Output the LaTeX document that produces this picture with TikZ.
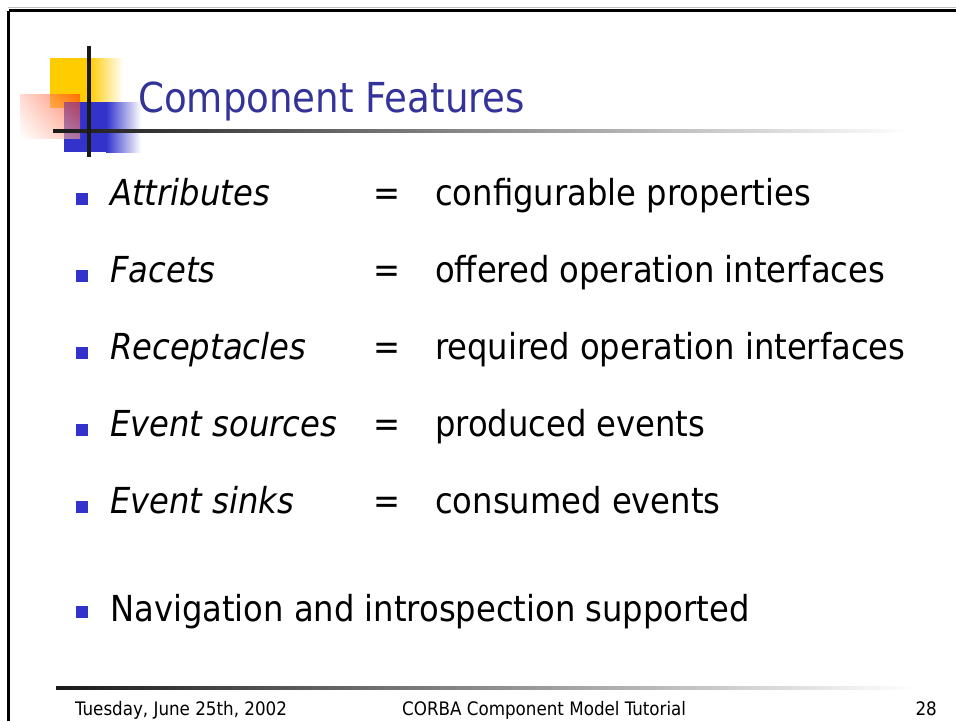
\documentclass[tikz,border=0pt]{standalone}
\usepackage{fontspec}
\setmainfont{DejaVu Sans Condensed}
\usepackage{tikz}
\usetikzlibrary{shadings}

\definecolor{titleblue}{HTML}{333399}
\definecolor{markblue}{HTML}{3333CC}
\definecolor{logoyellow}{HTML}{FFCC00}
\definecolor{logored}{HTML}{FF3300}

\tikzset{
  bullet/.style={fill=markblue, inner sep=0pt, minimum size=12pt},
  itemtext/.style={anchor=base west, inner sep=0pt, font=\fontsize{35.8}{42}\selectfont},
  eqsign/.style={anchor=base, inner sep=0pt, font=\fontsize{35.8}{42}\selectfont},
  foottext/.style={inner sep=0pt, font=\fontsize{18.6}{22}\selectfont}
}

\begin{document}
\begin{tikzpicture}[x=1pt,y=-1pt]
\useasboundingbox (0,0) rectangle (956,721);
\def\lx{110}
\def\eqx{387}
\def\rx{435}

% slide frame
\draw[gray!50, line width=1pt] (8,7.5) -- (956,7.5);
\draw[line width=3pt] (8.5,10.5) -- (956,10.5);
\draw[line width=3pt] (8.5,10.5) -- (8.5,721);

% logo
\fill[logoyellow] (50,58) rectangle (89,108);
\shade[left color=logoyellow, right color=white] (89,58) rectangle (123,108);
\fill[markblue] (64,102) rectangle (106,152);
\shade[left color=markblue, right color=white] (106,102) rectangle (141,152);
\shade[upper right=logored, lower right=logored!50, upper left=logored!30, lower left=white, fill opacity=0.6] (20,94) rectangle (80,138);
\shade[left color=black!90, middle color=black!30, right color=white] (53,129) rectangle (910,132.3);
\fill[black!90] (87.3,46) rectangle (90.7,157);

% title
\node[anchor=base west, inner sep=0pt, text=titleblue, font=\fontsize{41.3}{48}\selectfont] (title) at (138,112) {Component Features};

% items
\node[bullet] (b1) at (81.5,198.5) {};
\node[itemtext] (k1) at (\lx,205) {\itshape Attributes};
\node[eqsign] (e1) at (\eqx,205) {=};
\node[itemtext] (v1) at (\rx,205) {configurable properties};

\node[bullet] (b2) at (81.5,275.5) {};
\node[itemtext] (k2) at (\lx,282) {\itshape Facets};
\node[eqsign] (e2) at (\eqx,282) {=};
\node[itemtext] (v2) at (\rx,282) {offered operation interfaces};

\node[bullet] (b3) at (81.5,352.5) {};
\node[itemtext] (k3) at (\lx,359) {\itshape Receptacles};
\node[eqsign] (e3) at (\eqx,359) {=};
\node[itemtext] (v3) at (\rx,359) {required operation interfaces};

\node[bullet] (b4) at (81.5,429.5) {};
\node[itemtext] (k4) at (\lx,436) {\itshape Event sources};
\node[eqsign] (e4) at (\eqx,436) {=};
\node[itemtext] (v4) at (\rx,436) {produced events};

\node[bullet] (b5) at (81.5,506.5) {};
\node[itemtext] (k5) at (\lx,513) {\itshape Event sinks};
\node[eqsign] (e5) at (\eqx,513) {=};
\node[itemtext] (v5) at (\rx,513) {consumed events};

\node[bullet] (b6) at (81.5,612) {};
\node[itemtext] (k6) at (\lx,621) {Navigation and introspection supported};

% footer
\shade[left color=black!90, middle color=black!35, right color=white] (56,686.5) rectangle (915,689.5);
\node[foottext, anchor=base west] (date) at (75,715) {Tuesday, June 25th, 2002};
\node[foottext, anchor=base west] (course) at (402,715) {CORBA Component Model Tutorial};
\node[foottext, anchor=base east] (page) at (937,715) {28};
\end{tikzpicture}
\end{document}
